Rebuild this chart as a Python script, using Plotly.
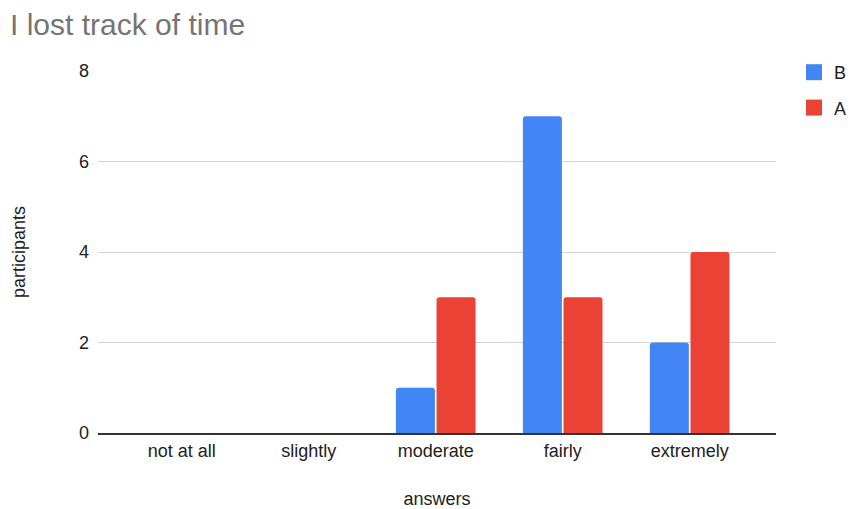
import plotly.graph_objects as go

# Survey answers for "I lost track of time"
answers = ["not at all", "slightly", "moderate", "fairly", "extremely"]
group_b = [0, 0, 1, 7, 2]
group_a = [0, 0, 3, 3, 4]
y_ticks = [0, 2, 4, 6, 8]

BLUE = "#4285F4"
RED = "#EA4335"
FONT = "Liberation Sans, Arial, sans-serif"

fig = go.Figure()
fig.add_trace(go.Bar(x=answers, y=group_b, name="B", marker_color=BLUE,
                     marker_line_width=0, showlegend=False))
fig.add_trace(go.Bar(x=answers, y=group_a, name="A", marker_color=RED,
                     marker_line_width=0, showlegend=False))

# legend entries with larger square swatches
for name, color in [("B", BLUE), ("A", RED)]:
    fig.add_trace(go.Scatter(x=[None], y=[None], mode="markers", name=name,
                             legendgroup=name,
                             marker=dict(symbol="square", size=17, color=color)))

fig.update_layout(
    width=851, height=509,
    margin=dict(l=98, r=75, t=71, b=76, autoexpand=False),
    paper_bgcolor="white", plot_bgcolor="white",
    font=dict(family=FONT, size=18, color="#222222"),
    title=dict(text="I lost track of time", x=10 / 851, xref="container",
               xanchor="left", y=1 - 24 / 509, yref="container", yanchor="middle",
               font=dict(size=30, color="#757575", family=FONT)),
    barmode="group", bargap=0.36, bargroupgap=0.04, barcornerradius=3,
    showlegend=True,
    legend=dict(x=794 / 851, xref="container", xanchor="left",
                y=1 - 54 / 509, yref="container", yanchor="top",
                traceorder="grouped", tracegroupgap=9,
                font=dict(size=18, color="#222222"),
                bgcolor="rgba(0,0,0,0)"),
)

fig.update_xaxes(
    type="category", range=[-0.66, 4.68], automargin=False,
    showline=True, linecolor="#333333", linewidth=1.5,
    showgrid=False, ticks="", ticklabelstandoff=1,
    title=dict(text="answers", standoff=33, font=dict(size=18)),
)
fig.update_yaxes(
    range=[0, 8], tickvals=y_ticks, ticktext=[str(v) for v in y_ticks],
    automargin=False,
    showgrid=True, gridcolor="#d6d6d6", gridwidth=1,
    zeroline=False, showline=False, ticks="", ticklabelstandoff=8,
    title=dict(text="participants", standoff=48, font=dict(size=18)),
)

fig.write_html("out.html")
